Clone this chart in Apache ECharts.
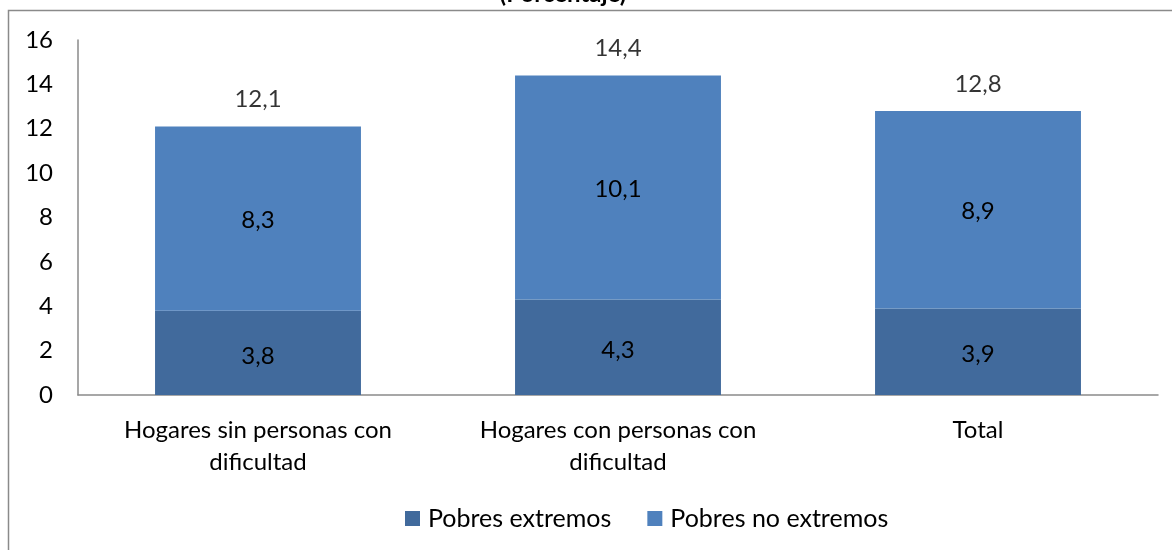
<!DOCTYPE html>
<html>
<head>
<meta charset="utf-8">
<script src="https://cdn.jsdelivr.net/npm/echarts@6/dist/echarts.min.js"></script>
<style>html,body{margin:0;padding:0;background:#fff;}#c{width:1172px;height:550px;}</style>
</head>
<body>
<div id="c"></div>
<script>
const categories = ['Hogares sin personas con\ndificultad', 'Hogares con personas con\ndificultad', 'Total'];
const pobresExtremos = [3.8, 4.3, 3.9];
const pobresNoExtremos = [8.3, 10.1, 8.9];
const totales = [12.1, 14.4, 12.8];
const seriesNames = ['Pobres extremos', 'Pobres no extremos'];
const titleText = '(Porcentaje)';

const FONT = 'Lato, "Open Sans", sans-serif';
const FS = 24;
const fmt = v => String(v.toFixed(1)).replace('.', ',');

const chart = echarts.init(document.getElementById('c'), null, {renderer: 'canvas'});
chart.setOption({
  backgroundColor: '#fff',
  animation: false,
  title: {
    text: titleText, left: 558, top: -23, textAlign: 'center',
    textStyle: {fontFamily: FONT, fontSize: 24, fontWeight: 'bold', color: '#000'}
  },
  graphic: [{
    type: 'rect', shape: {x: 8.5, y: 10.5, width: 1300, height: 700},
    style: {fill: 'none', stroke: '#8a8a8a', lineWidth: 1.5}, silent: true, z: -1
  }],
  grid: {left: 78, right: 14, top: 40, bottom: 155},
  legend: {
    data: seriesNames, bottom: 14, left: 400, itemWidth: 15, itemHeight: 15, itemGap: 36,
    icon: 'rect',
    textStyle: {fontFamily: FONT, fontSize: 25, color: '#000', padding: [0, 0, 0, 3]}
  },
  xAxis: {
    type: 'category', data: categories,
    axisLine: {lineStyle: {color: '#8a8a8a', width: 1.5}},
    axisTick: {show: false},
    axisLabel: {fontFamily: FONT, fontSize: FS, color: '#000', lineHeight: 32, margin: 19, interval: 0}
  },
  yAxis: {
    type: 'value', min: 0, max: 16, interval: 2,
    axisLine: {show: true, lineStyle: {color: '#8a8a8a', width: 1.5}},
    axisTick: {show: false},
    splitLine: {show: false},
    axisLabel: {fontFamily: FONT, fontSize: FS, color: '#000', margin: 25}
  },
  series: [
    {
      name: seriesNames[0], type: 'bar', stack: 's', data: pobresExtremos, barWidth: '57.2%',
      itemStyle: {color: '#416A9C'},
      label: {show: true, position: 'inside', offset: [0, 3], formatter: p => fmt(p.value),
        fontFamily: FONT, fontSize: FS, color: '#000'}
    },
    {
      name: seriesNames[1], type: 'bar', stack: 's', data: pobresNoExtremos, barWidth: '57.2%',
      itemStyle: {color: '#4F81BD'},
      label: {show: true, position: 'inside', offset: [0, 2], formatter: p => fmt(p.value),
        fontFamily: FONT, fontSize: FS, color: '#000'}
    },
    {
      name: 'Total', type: 'scatter', data: totales, symbolSize: 0.01,
      itemStyle: {color: 'transparent'}, silent: true,
      label: {show: true, position: 'top', distance: 15, formatter: p => fmt(p.value),
        fontFamily: FONT, fontSize: FS, color: '#000'}
    }
  ]
});
</script>
</body>
</html>
